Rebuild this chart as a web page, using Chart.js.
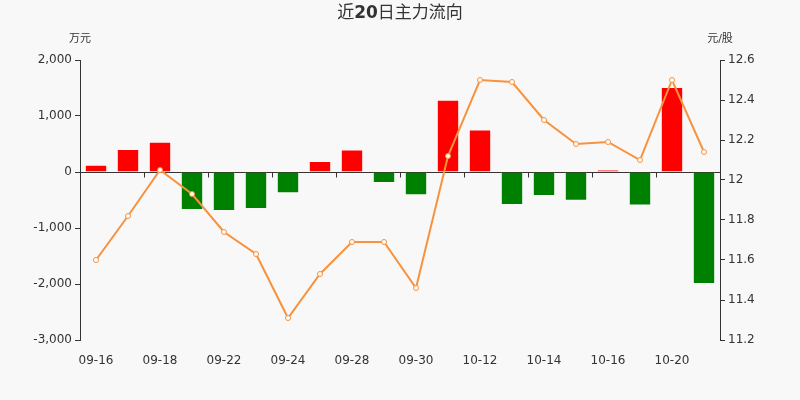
<!DOCTYPE html>
<html>
<head>
<meta charset="utf-8">
<script src="https://cdn.jsdelivr.net/npm/chart.js@4.4.0/dist/chart.umd.min.js"></script>
<style>
  html, body { margin: 0; padding: 0; background: #f8f8f8; }
  #wrap { width: 800px; height: 400px; }
</style>
</head>
<body>
<div id="wrap"><canvas id="grafico_fluxo"></canvas></div>
<script>
// dados
var dias = ['09-16','09-17','09-18','09-21','09-22','09-23','09-24','09-25','09-28','09-29',
            '09-30','10-09','10-12','10-13','10-14','10-15','10-16','10-19','10-20','10-21'];
var fluxo = [130, 410, 540, -680, -697, -660, -380, 196, 404, -197,
             -417, 1291, 761, -590, -429, -513, 41, -596, 1518, -2000];
var preco = [11.60, 11.82, 12.05, 11.93, 11.74, 11.63, 11.31, 11.53, 11.69, 11.69,
             11.46, 12.12, 12.50, 12.49, 12.30, 12.18, 12.19, 12.10, 12.50, 12.14];

// titulo em partes: numeros em negrito, resto normal
var titulo = [['近', 'normal'], ['20', 'bold'], ['日主力流向', 'normal']];

var corBarra = function(v) {
  return v >= 0 ? '#ff0000' : '#008000';
};

var fonte = "'DejaVu Sans', 'Noto Sans CJK SC', sans-serif";

// fundo, linha do zero, marcas e titulos
var extras = {
  id: 'extras',
  beforeDraw: function(chart) {
    var ctx = chart.ctx;
    ctx.save();
    ctx.fillStyle = '#f8f8f8';
    ctx.fillRect(0, 0, chart.width, chart.height);
    ctx.restore();
  },
  beforeDatasetsDraw: function(chart) {
    var ctx = chart.ctx;
    var area = chart.chartArea;
    var x = chart.scales.x;
    var y0 = Math.round(chart.scales.y.getPixelForValue(0)) + 0.5;
    ctx.save();
    ctx.strokeStyle = '#333';
    ctx.lineWidth = 1;
    ctx.beginPath();
    ctx.moveTo(area.left, y0);
    ctx.lineTo(area.right, y0);
    var meio = (x.getPixelForValue(1) - x.getPixelForValue(0)) / 2;
    for (var i = 2; i < dias.length; i += 2) {
      var px = Math.round(x.getPixelForValue(i) - meio) + 0.5;
      ctx.moveTo(px, y0);
      ctx.lineTo(px, y0 + 5);
    }
    ctx.stroke();
    ctx.restore();
  },
  afterDraw: function(chart) {
    var ctx = chart.ctx;
    var area = chart.chartArea;
    ctx.save();
    ctx.fillStyle = '#333';
    ctx.textBaseline = 'middle';

    // titulo
    var larg = 0;
    titulo.forEach(function(p) {
      ctx.font = p[1] + ' 17px ' + fonte;
      larg += ctx.measureText(p[0]).width;
    });
    var tx = chart.width / 2 - larg / 2;
    ctx.textAlign = 'left';
    titulo.forEach(function(p) {
      ctx.font = p[1] + ' 17px ' + fonte;
      ctx.fillText(p[0], tx, 14);
      tx += ctx.measureText(p[0]).width;
    });

    ctx.font = '11px ' + fonte;
    ctx.textAlign = 'center';
    ctx.fillText('万元', area.left, 39);
    ctx.fillText('元/股', area.right, 39);
    ctx.restore();
  }
};

new Chart(document.getElementById('grafico_fluxo'), {
  data: {
    labels: dias,
    datasets: [{
      type: 'line',
      label: '股价',
      data: preco,
      yAxisID: 'y1',
      borderColor: '#f7923e',
      borderWidth: 2,
      pointRadius: 2.5,
      pointBorderWidth: 1,
      pointBackgroundColor: '#ffffff',
      pointBorderColor: '#f7923e',
      tension: 0,
      order: 0
    }, {
      type: 'bar',
      label: '主力净流入',
      data: fluxo,
      yAxisID: 'y',
      backgroundColor: fluxo.map(corBarra),
      borderColor: 'rgba(255,255,255,0.55)',
      borderWidth: 1,
      barPercentage: 0.7,
      categoryPercentage: 1,
      order: 1
    }]
  },
  options: {
    responsive: true,
    maintainAspectRatio: false,
    animation: false,
    layout: { padding: { top: 60 } },
    plugins: {
      legend: { display: false },
      tooltip: { enabled: false },
      title: { display: false }
    },
    scales: {
      x: {
        grid: { display: false },
        border: { display: false },
        ticks: {
          autoSkip: false,
          maxRotation: 0,
          padding: 6,
          color: '#333',
          font: { family: fonte, size: 12 },
          callback: function(v, i) { return i % 2 === 0 ? dias[i] : ''; }
        },
        afterFit: function(s) { s.height = 60; }
      },
      y: {
        position: 'left',
        min: -3000,
        max: 2000,
        grid: { drawOnChartArea: false, drawTicks: true, tickLength: 5, color: '#333' },
        border: { display: true, color: '#333' },
        ticks: {
          stepSize: 1000,
          padding: 3,
          color: '#333',
          font: { family: fonte, size: 12 },
          callback: function(v) { return v.toLocaleString('en-US'); }
        },
        afterFit: function(s) { s.width = 80; }
      },
      y1: {
        position: 'right',
        min: 11.2,
        max: 12.6,
        grid: { drawOnChartArea: false, drawTicks: true, tickLength: 5, color: '#333' },
        border: { display: true, color: '#333' },
        ticks: {
          stepSize: 0.2,
          padding: 3,
          color: '#333',
          font: { family: fonte, size: 12 },
          callback: function(v) { return String(Number(v.toFixed(1))); }
        },
        afterFit: function(s) { s.width = 80; }
      }
    }
  },
  plugins: [extras]
});
</script>
</body>
</html>
